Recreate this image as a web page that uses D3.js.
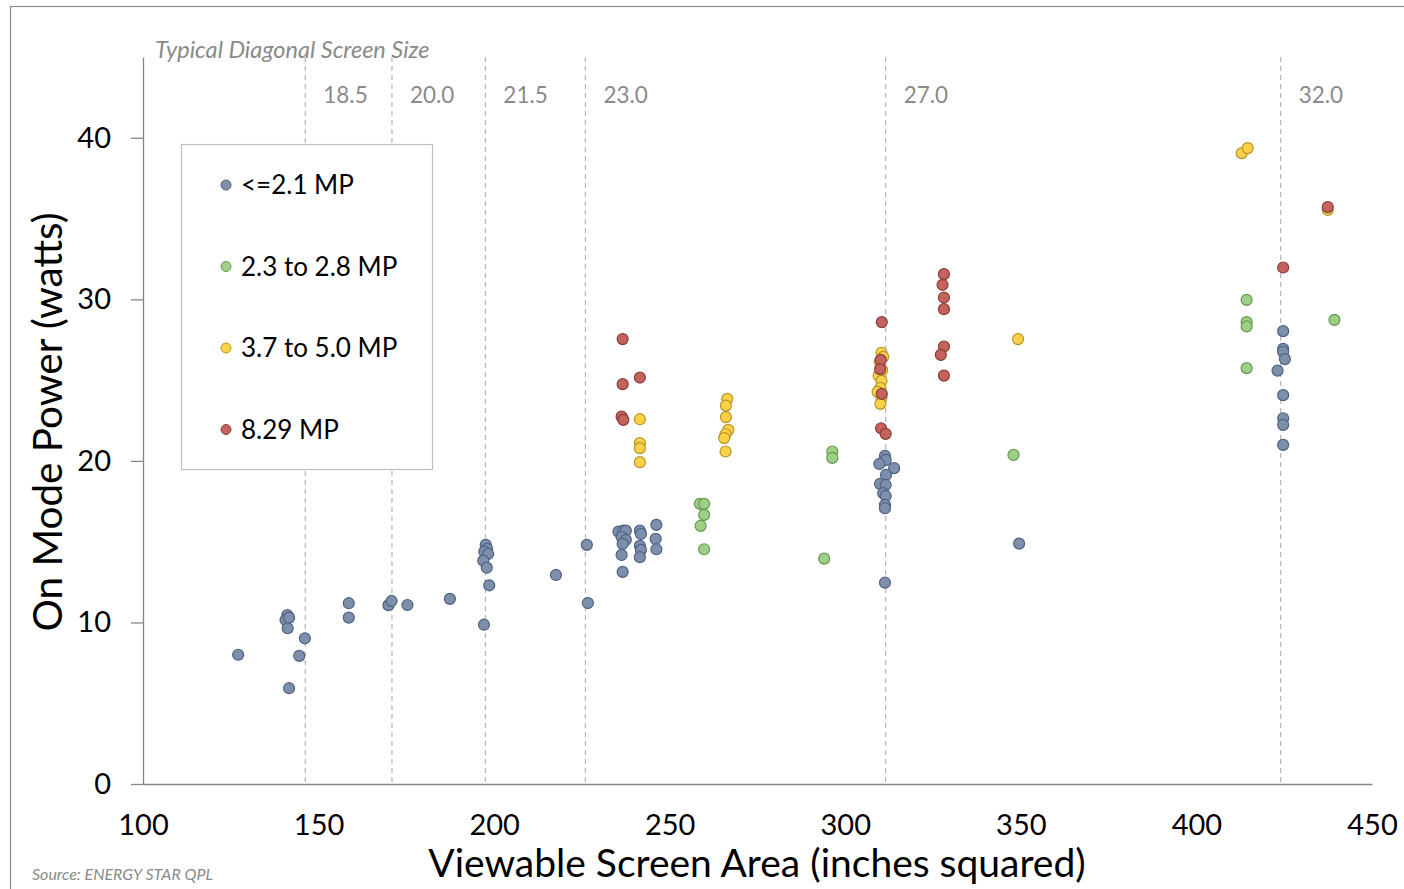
<!DOCTYPE html>
<html>
<head>
<meta charset="utf-8">
<script src="https://cdn.jsdelivr.net/npm/d3@7"></script>
<style>
    body { margin: 0; background: #ffffff; }
    text { font-family: Lato, 'Open Sans', sans-serif; }
</style>
</head>
<body>
<svg id="canvas" width="1404" height="889"></svg>
<script>
// series names, in drawing order (later ones sit on top)
let seriesNames = ['<=2.1 MP', '2.3 to 2.8 MP', '3.7 to 5.0 MP', '8.29 MP']

// [viewable area, on mode watts]
let blueValues = [
    [127.1, 8.0], [141.1, 10.46], [140.6, 10.15], [141.6, 10.3], [141.2, 9.64], [146.1, 9.02],
    [144.5, 7.93], [141.6, 5.93], [158.6, 11.19], [158.6, 10.3], [169.9, 11.07], [170.8, 11.33],
    [175.3, 11.08], [187.4, 11.46], [197.6, 14.8], [198.0, 14.55], [197.2, 14.38], [198.3, 14.24],
    [196.9, 13.83], [197.9, 13.39], [198.6, 12.3], [197.1, 9.86], [217.6, 12.94], [226.4, 14.8],
    [226.7, 11.2], [235.4, 15.62], [236.8, 15.68], [237.5, 15.68], [236.3, 15.29], [237.5, 15.11],
    [236.6, 14.86], [236.3, 14.18], [236.6, 13.13], [241.5, 15.68], [241.8, 15.48], [241.5, 14.74],
    [241.8, 14.49], [241.5, 14.04], [246.2, 16.04], [246.0, 15.17], [246.2, 14.53],
    [311.3, 20.31], [311.5, 20.06], [309.7, 19.81], [313.9, 19.55], [311.6, 19.13], [309.9, 18.58],
    [311.5, 18.51], [310.8, 18.0], [311.5, 17.83], [311.3, 17.28], [311.3, 17.07], [311.3, 12.46],
    [349.5, 14.88], [424.7, 28.03], [424.7, 26.93], [424.7, 26.75], [425.2, 26.3], [423.1, 25.59],
    [424.7, 24.07], [424.7, 22.64], [424.7, 22.23], [424.7, 20.99]
]

let greenValues = [
    [258.6, 17.34], [259.8, 17.34], [259.8, 16.66], [258.8, 15.98], [259.8, 14.53],
    [296.3, 20.58], [296.3, 20.19], [294.0, 13.95], [347.9, 20.37],
    [414.3, 29.97], [414.3, 28.59], [414.3, 28.32], [414.3, 25.74], [439.3, 28.73]
]

let yellowValues = [
    [241.5, 22.58], [241.5, 21.1], [241.5, 20.79], [241.5, 19.92],
    [266.4, 23.84], [266.0, 23.42], [266.0, 22.71], [266.7, 21.92], [265.9, 21.65], [265.5, 21.41], [265.9, 20.58],
    [310.3, 26.69], [310.8, 26.44], [309.8, 26.13], [310.5, 25.63], [309.5, 25.26], [310.3, 24.95],
    [310.0, 24.52], [309.2, 24.27], [310.3, 23.9], [310.0, 23.53],
    [349.2, 27.54], [412.9, 39.05], [414.6, 39.36], [437.4, 35.54]
]

let redValues = [
    [236.6, 27.54], [236.6, 24.75], [236.3, 22.74], [236.8, 22.54], [241.5, 25.16],
    [328.1, 31.56], [327.7, 30.9], [328.1, 30.11], [328.1, 29.39], [328.1, 27.08], [327.2, 26.56], [328.1, 25.28],
    [310.4, 28.59], [310.1, 26.25], [309.9, 25.68], [310.4, 24.15], [310.2, 22.02], [311.5, 21.67],
    [424.7, 31.97], [437.4, 35.71]
]

// typical diagonal screen sizes and their viewable area
let screenSizes = ['18.5', '20.0', '21.5', '23.0', '27.0', '32.0']
let screenAreas = [146.2, 170.9, 197.5, 226.0, 311.5, 424.0]

let xTicks = [100, 150, 200, 250, 300, 350, 400, 450]
let yTicks = [0, 10, 20, 30, 40]

let fills = ['#7d8fab', '#9dcf86', '#fbd247', '#c4625d']
let strokes = ['#4f6280', '#67984f', '#b8952a', '#8a3e3a']

let canvas = d3.select('#canvas')

let xScale = d3.scaleLinear().domain([100, 450]).range([143, 1372])
let yScale = d3.scaleLinear().domain([0, 45]).range([784, 57])

// outer frame
canvas.append('rect')
    .attr('x', 10.5)
    .attr('y', 6.5)
    .attr('width', 1420)
    .attr('height', 900)
    .attr('fill', 'none')
    .attr('stroke', '#8c8c8c')
    .attr('stroke-width', 1.2)

// screen size guide lines
canvas.selectAll('.guide')
    .data(screenAreas)
    .enter()
    .append('line')
    .attr('class', 'guide')
    .attr('x1', (a) => xScale(a))
    .attr('x2', (a) => xScale(a))
    .attr('y1', yScale(45))
    .attr('y2', yScale(0))
    .attr('stroke', '#b4b4b4')
    .attr('stroke-width', 1.2)
    .attr('stroke-dasharray', '5,4')

canvas.selectAll('.guide-label')
    .data(screenSizes)
    .enter()
    .append('text')
    .attr('class', 'guide-label')
    .attr('x', (s, i) => xScale(screenAreas[i]) + 18)
    .attr('y', 103)
    .attr('font-size', 22.5)
    .attr('fill', '#8a8a8a')
    .text((s) => s)

canvas.append('text')
    .attr('x', 155)
    .attr('y', 58)
    .attr('font-size', 23.5)
    .attr('font-style', 'italic')
    .attr('fill', '#8a8a8a')
    .text('Typical Diagonal Screen Size')

// axes
let yAxis = d3.axisLeft(yScale)
    .tickValues(yTicks)
    .tickSize(12)
    .tickSizeOuter(0)
    .tickPadding(20)

let yAxisGroup = canvas.append('g')
    .attr('transform', 'translate(143, 0)')
    .call(yAxis)

let xAxis = d3.axisBottom(xScale)
    .tickValues(xTicks)
    .tickSize(0)
    .tickSizeOuter(0)
    .tickPadding(30)

let xAxisGroup = canvas.append('g')
    .attr('transform', 'translate(0, 784)')
    .call(xAxis)

canvas.selectAll('.domain, .tick line')
    .attr('stroke', '#868686')
    .attr('stroke-width', 1.3)

canvas.selectAll('.tick text')
    .attr('font-family', 'Lato, sans-serif')
    .attr('font-size', 29)
    .attr('fill', '#000000')

// axis titles
canvas.append('text')
    .attr('x', 757)
    .attr('y', 877)
    .attr('text-anchor', 'middle')
    .attr('font-size', 39)
    .text('Viewable Screen Area (inches squared)')

canvas.append('text')
    .attr('transform', 'translate(62, 422) rotate(-90)')
    .attr('text-anchor', 'middle')
    .attr('font-size', 40.5)
    .text('On Mode Power (watts)')

canvas.append('text')
    .attr('x', 32)
    .attr('y', 880)
    .attr('font-size', 16)
    .attr('font-style', 'italic')
    .attr('fill', '#8a8a8a')
    .text('Source: ENERGY STAR QPL')

// points
let allSeries = [blueValues, greenValues, yellowValues, redValues]

allSeries.forEach((values, i) => {
    canvas.append('g')
        .selectAll('circle')
        .data(values)
        .enter()
        .append('circle')
        .attr('cx', (d) => xScale(d[0]))
        .attr('cy', (d) => yScale(d[1]))
        .attr('r', 5.5)
        .attr('fill', fills[i])
        .attr('stroke', strokes[i])
        .attr('stroke-width', 1.2)
})

// legend
let legend = canvas.append('g')

legend.append('rect')
    .attr('x', 181.5)
    .attr('y', 144.5)
    .attr('width', 251)
    .attr('height', 325)
    .attr('fill', '#ffffff')
    .attr('stroke', '#bfbfbf')
    .attr('stroke-width', 1.2)

let items = legend.selectAll('.item')
    .data(seriesNames)
    .enter()
    .append('g')
    .attr('class', 'item')
    .attr('transform', (name, i) => 'translate(226, ' + (185 + i * 81.5) + ')')

items.append('circle')
    .attr('r', 5)
    .attr('fill', (name, i) => fills[i])
    .attr('stroke', (name, i) => strokes[i])
    .attr('stroke-width', 1)

items.append('text')
    .attr('x', 15)
    .attr('y', 9)
    .attr('font-size', 26)
    .text((name) => name)
</script>
</body>
</html>
